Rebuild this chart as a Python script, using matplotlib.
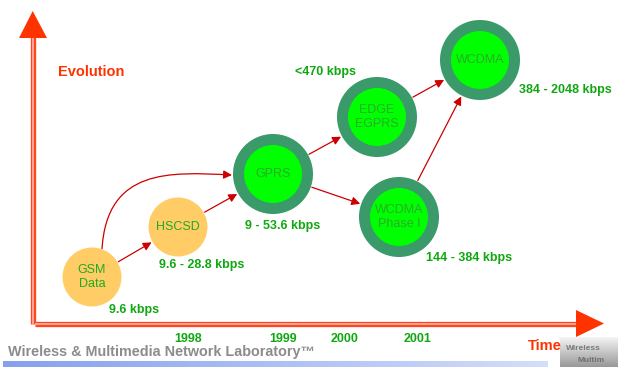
import numpy as np
import matplotlib
matplotlib.use("Agg")
import matplotlib.pyplot as plt
from matplotlib.patches import Circle, FancyArrowPatch, Polygon
from matplotlib.path import Path

plt.rcParams['font.family'] = ['Liberation Sans', 'DejaVu Sans']

# -----------------------------------
# Data
# -----------------------------------
node_names = ["GSM\nData", "HSCSD", "GPRS", "EDGE\nEGPRS", "WCDMA\nPhase I", "WCDMA"]
node_kind = ["circuit", "circuit", "packet", "packet", "packet", "packet"]
node_x = [92, 178, 273, 377, 399, 480]
node_y = [277, 227, 174, 117, 217, 60]

rates = ["9.6 kbps", "9.6 - 28.8 kbps", "9 - 53.6 kbps", "<470 kbps",
         "144 - 384 kbps", "384 - 2048 kbps"]
rate_x = [109, 159, 245, 295, 426, 519]
rate_y = [310, 265, 226, 72, 258, 90]

# (from node, to node)
links = [(0, 1), (1, 2), (2, 3), (2, 4), (3, 5), (4, 5)]

years = ["1998", "1999", "2000", "2001"]
year_x = [188, 283, 345, 418]

# -----------------------------------
# Canvas in pixel units
# -----------------------------------
W, H = 618, 367
fig = plt.figure(figsize=(W / 100, H / 100), dpi=100)
ax = fig.add_axes([0, 0, 1, 1])
ax.axis("off")

RED = "#FF3300"
LINK = "#CC0000"
TXT_GREEN = "#10A810"

# -----------------------------------
# Axes arrows (double line)
# -----------------------------------
def double_line(xs, ys):
    ax.plot(xs, ys, color="#FF4422", lw=3.8, solid_capstyle="butt", zorder=2)
    ax.plot(xs, ys, color="#FFB8A8", lw=1.2, solid_capstyle="butt", zorder=3)

double_line([32.5, 32.5], [323.5, 37])
double_line([35, 577], [323.5, 323.5])
ax.add_patch(Polygon([[19, 38], [47, 38], [32.7, 11]], closed=True, color=RED, lw=0, zorder=4))
ax.add_patch(Polygon([[576, 310], [576, 337], [604, 323.5]], closed=True, color=RED, lw=0, zorder=4))

ax.text(58, 72, "Evolution", color=RED, fontsize=10.5, fontweight="bold", va="center")
ax.text(528, 346, "Time", color=RED, fontsize=10.5, fontweight="bold", va="center", zorder=5)

# -----------------------------------
# Links
# -----------------------------------
def radius(i):
    return 29.5 if node_kind[i] == "circuit" else 40

for a, b in links:
    x0, y0, x1, y1 = node_x[a], node_y[a], node_x[b], node_y[b]
    d = np.hypot(x1 - x0, y1 - y0)
    ux, uy = (x1 - x0) / d, (y1 - y0) / d
    start = (x0 + ux * (radius(a) + 1), y0 + uy * (radius(a) + 1))
    end = (x1 - ux * (radius(b) + 1), y1 - uy * (radius(b) + 1))
    ax.add_patch(FancyArrowPatch(start, end, arrowstyle="-|>,head_length=5,head_width=2.5",
                                 color=LINK, lw=0.9, shrinkA=0, shrinkB=0, zorder=5))

# curved link GSM -> GPRS
verts = [(102, 249), (107, 168), (170, 172), (232, 175)]
path = Path(verts, [Path.MOVETO, Path.CURVE4, Path.CURVE4, Path.CURVE4])
ax.add_patch(FancyArrowPatch(path=path, arrowstyle="-|>,head_length=5,head_width=2.5",
                             color=LINK, lw=0.9, zorder=5))

# -----------------------------------
# Nodes
# -----------------------------------
for name, kind, x, y in zip(node_names, node_kind, node_x, node_y):
    if kind == "circuit":
        ax.add_patch(Circle((x, y), 29.5, color="#FFCC66", lw=0, zorder=6))
        tc = "#22AA22"
    else:
        ax.add_patch(Circle((x, y), 40, color="#3A9A6A", lw=0, zorder=6))
        ax.add_patch(Circle((x, y), 29, color="#00FF00", lw=0, zorder=7))
        tc = "#28AE28"
    ax.text(x, y, name, color=tc, fontsize=9, ha="center", va="center",
            linespacing=1.15, zorder=8)

for r, x, y in zip(rates, rate_x, rate_y):
    ax.text(x, y, r, color=TXT_GREEN, fontsize=9, fontweight="bold", va="center")

for yr, x in zip(years, year_x):
    ax.text(x, 339, yr, color=TXT_GREEN, fontsize=9, fontweight="bold", ha="center", va="center")

# -----------------------------------
# Footer
# -----------------------------------
ax.text(8, 352, "Wireless & Multimedia Network Laboratory\u2122", color="#8C8C8C",
        fontsize=10.4, fontweight="bold", va="center")

grad = np.linspace(0, 1, 256).reshape(1, -1)
cmap = matplotlib.colors.LinearSegmentedColormap.from_list("bar", ["#86A0EE", "#D4DEFA"])
ax.imshow(grad, cmap=cmap, aspect="auto", extent=[3, 548, 367, 361], zorder=1)

# small logo box
logo = np.linspace(0.95, 0.6, 30).reshape(-1, 1) * np.ones((1, 58))
ax.imshow(logo, cmap="gray", vmin=0, vmax=1, aspect="auto", extent=[560, 618, 367, 337], zorder=4)
ax.text(566, 348, "Wireless", color="#555555", fontsize=6, fontweight="bold",
        va="center", alpha=0.7, zorder=4)
ax.text(577, 361, "Multim", color="#555555", fontsize=6, fontweight="bold",
        va="center", alpha=0.7, zorder=4)

ax.set_xlim(0, W)
ax.set_ylim(H, 0)

fig.savefig("out.png", dpi=100)
